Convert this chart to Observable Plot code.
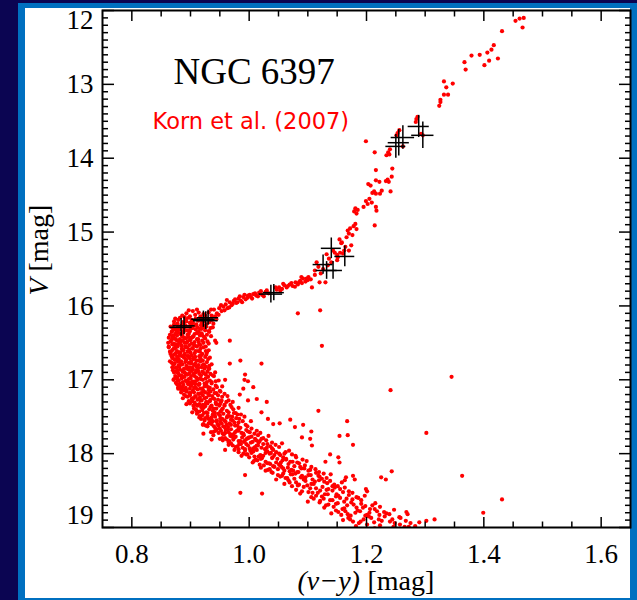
<!DOCTYPE html>
<html><head><meta charset="utf-8">
<script src="https://cdn.jsdelivr.net/npm/d3@7"></script>
<script src="https://cdn.jsdelivr.net/npm/@observablehq/plot@0.6"></script>
<style>
html,body{margin:0;padding:0;background:#0b0552;width:637px;height:600px;overflow:hidden;color:#000;}
#border{position:absolute;left:18px;top:3px;width:619px;height:597px;background:#0070c0;}
#panel{position:absolute;left:25px;top:8px;width:605px;height:590px;background:#fff;}
#chart{position:absolute;left:0;top:0;}
</style></head><body>
<div id="border"></div><div id="panel"></div><div id="chart"></div>
<script>
// [(v-y) colour, V magnitude]
const turnoffRegion = [
[0.886,16.13],[0.893,16.10],[0.899,16.14],[0.904,16.07],[0.908,16.12],[0.914,16.09],[0.917,16.14],[0.922,16.11],[0.890,16.15],[0.911,16.05],[0.897,16.06],
[0.872,16.21],[0.874,16.17],[0.878,16.24],[0.879,16.19],[0.882,16.16],[0.887,16.22],[0.889,16.25],[0.892,16.18],[0.893,16.21],[0.897,16.16],[0.899,16.23],[0.902,16.19],[0.904,16.22],[0.909,16.17],[0.910,16.25],[0.913,16.20],[0.917,16.16],[0.919,16.23],[0.922,16.18],[0.923,16.21],[0.927,16.25],[0.930,16.17],[0.932,16.22],[0.936,16.19],[0.939,16.24],[0.944,16.18],
[0.866,16.28],[0.869,16.34],[0.870,16.30],[0.872,16.25],[0.876,16.33],[0.878,16.29],[0.881,16.32],[0.886,16.26],[0.887,16.35],[0.889,16.31],[0.892,16.27],[0.896,16.33],[0.898,16.28],[0.899,16.34],[0.902,16.25],[0.904,16.30],[0.909,16.32],[0.912,16.29],[0.914,16.35],[0.918,16.26],[0.919,16.31],[0.922,16.27],[0.925,16.33],[0.927,16.28],[0.931,16.34],[0.934,16.30],[0.938,16.29],
[0.863,16.43],[0.865,16.39],[0.868,16.35],[0.869,16.42],[0.873,16.44],[0.875,16.37],[0.877,16.40],[0.882,16.45],[0.883,16.38],[0.886,16.41],[0.888,16.36],[0.892,16.44],[0.895,16.39],[0.896,16.42],[0.898,16.35],[0.902,16.43],[0.905,16.41],[0.907,16.38],[0.912,16.36],[0.913,16.45],[0.916,16.40],[0.919,16.37],[0.923,16.42],[0.925,16.44],[0.928,16.39],[0.932,16.35],[0.935,16.41],
[0.862,16.50],[0.863,16.55],[0.866,16.48],[0.868,16.46],[0.872,16.51],[0.874,16.53],[0.875,16.45],[0.878,16.52],[0.883,16.49],[0.885,16.54],[0.887,16.47],[0.890,16.50],[0.891,16.55],[0.895,16.48],[0.898,16.53],[0.900,16.46],[0.902,16.51],[0.907,16.49],[0.908,16.54],[0.911,16.45],[0.915,16.52],[0.917,16.53],[0.920,16.47],[0.922,16.50],[0.926,16.55],[0.929,16.48],[0.931,16.51]
];
const upperMainSequence = [
[0.863,16.56],[0.865,16.62],[0.866,16.65],[0.870,16.59],[0.872,16.57],[0.875,16.64],[0.877,16.61],[0.878,16.55],[0.883,16.63],[0.885,16.58],[0.888,16.60],[0.890,16.65],[0.894,16.56],[0.895,16.62],[0.898,16.59],[0.900,16.63],[0.903,16.57],[0.907,16.64],[0.909,16.61],[0.911,16.55],[0.916,16.62],[0.917,16.58],[0.920,16.65],[0.922,16.56],[0.926,16.61],[0.928,16.63],[0.931,16.60],
[0.865,16.75],[0.868,16.68],[0.870,16.71],[0.872,16.66],[0.873,16.73],[0.877,16.69],[0.880,16.72],[0.882,16.67],[0.884,16.75],[0.889,16.70],[0.890,16.66],[0.892,16.73],[0.895,16.68],[0.899,16.71],[0.901,16.75],[0.902,16.67],[0.905,16.72],[0.908,16.69],[0.910,16.74],[0.915,16.68],[0.917,16.71],[0.918,16.67],[0.921,16.74],[0.925,16.69],[0.927,16.66],[0.930,16.72],[0.933,16.70],
[0.868,16.77],[0.869,16.83],[0.873,16.78],[0.875,16.84],[0.878,16.75],[0.880,16.80],[0.881,16.82],[0.884,16.79],[0.889,16.85],[0.891,16.76],[0.893,16.81],[0.897,16.77],[0.898,16.83],[0.901,16.78],[0.903,16.84],[0.906,16.80],[0.908,16.78],[0.913,16.84],[0.914,16.80],[0.917,16.75],[0.919,16.83],[0.923,16.79],[0.926,16.82],[0.928,16.76],[0.931,16.85],[0.932,16.81],[0.936,16.79],
[0.870,16.87],[0.872,16.90],[0.874,16.95],[0.878,16.88],[0.879,16.91],[0.882,16.86],[0.885,16.94],[0.887,16.89],[0.892,16.92],[0.894,16.85],[0.895,16.93],[0.898,16.91],[0.902,16.88],[0.904,16.86],[0.907,16.95],[0.909,16.90],[0.910,16.87],[0.915,16.92],[0.918,16.94],[0.920,16.89],[0.924,16.85],[0.926,16.93],[0.929,16.89],[0.932,16.85],[0.934,16.92],[0.938,16.94],[0.942,16.90],
[0.872,16.99],[0.875,17.04],[0.877,16.97],[0.878,17.00],[0.882,17.05],[0.885,16.98],[0.887,17.03],[0.890,16.96],[0.892,17.01],[0.897,16.99],[0.898,17.04],[0.901,16.95],[0.903,17.02],[0.907,17.03],[0.910,16.97],[0.912,17.00],[0.915,17.05],[0.916,16.98],[0.921,17.00],[0.924,17.05],[0.926,16.98],[0.930,16.96],[0.933,17.01],[0.936,17.03],[0.940,16.95],[0.943,17.02],[0.948,17.01],
[0.877,17.06],[0.879,17.12],[0.882,17.09],[0.884,17.13],[0.888,17.07],[0.889,17.14],[0.892,17.11],[0.897,17.05],[0.899,17.12],[0.901,17.08],[0.904,17.15],[0.908,17.06],[0.909,17.11],[0.912,17.13],[0.915,17.06],[0.917,17.12],[0.922,17.15],[0.924,17.09],[0.927,17.07],[0.931,17.14],[0.933,17.11],[0.936,17.05],[0.939,17.13],[0.943,17.08],[0.945,17.10],[0.950,17.15],[0.954,17.09],
[0.884,17.17],[0.887,17.25],[0.889,17.20],[0.893,17.16],[0.895,17.23],[0.898,17.18],[0.899,17.21],[0.903,17.25],[0.906,17.17],[0.908,17.22],[0.913,17.19],[0.916,17.24],[0.918,17.18],[0.921,17.21],[0.925,17.17],[0.927,17.24],[0.930,17.19],[0.934,17.16],[0.937,17.22],[0.939,17.25],[0.944,17.18],[0.947,17.21],[0.951,17.16],[0.954,17.23],[0.958,17.19],[0.963,17.22],
[0.893,17.33],[0.897,17.29],[0.899,17.32],[0.902,17.26],[0.905,17.35],[0.907,17.31],[0.912,17.27],[0.915,17.33],[0.917,17.28],[0.921,17.34],[0.924,17.25],[0.927,17.30],[0.929,17.32],[0.933,17.29],[0.936,17.35],[0.941,17.26],[0.943,17.31],[0.947,17.27],[0.950,17.33],[0.953,17.28],[0.958,17.34],[0.961,17.30],[0.965,17.28],[0.968,17.34],[0.972,17.30],
[0.903,17.44],[0.906,17.39],[0.910,17.42],[0.912,17.35],[0.915,17.43],[0.920,17.41],[0.922,17.38],[0.925,17.36],[0.929,17.45],[0.932,17.40],[0.934,17.37],[0.938,17.42],[0.941,17.44],[0.944,17.39],[0.949,17.35],[0.951,17.43],[0.955,17.39],[0.958,17.35],[0.962,17.42],[0.965,17.44],[0.970,17.37],[0.973,17.40],[0.977,17.45],[0.982,17.38]
];
const mainSequenceCore = [
[0.874,16.32],[0.884,16.27],[0.893,16.33],[0.901,16.30],[0.908,16.26],[0.916,16.31],[0.923,16.29],[0.880,16.30],
[0.871,16.40],[0.879,16.36],[0.889,16.43],[0.897,16.38],[0.904,16.42],[0.911,16.37],[0.920,16.40],[0.885,16.39],
[0.869,16.52],[0.877,16.47],[0.884,16.53],[0.893,16.50],[0.899,16.46],[0.906,16.53],[0.914,16.49],[0.881,16.49],
[0.868,16.61],[0.874,16.57],[0.881,16.63],[0.887,16.59],[0.896,16.62],[0.904,16.58],[0.913,16.61],[0.892,16.56],
[0.869,16.70],[0.876,16.73],[0.886,16.68],[0.893,16.73],[0.897,16.68],[0.906,16.70],[0.913,16.74],[0.881,16.67],
[0.871,16.80],[0.877,16.83],[0.886,16.79],[0.895,16.84],[0.900,16.77],[0.910,16.82],[0.921,16.80],[0.883,16.76],
[0.876,16.89],[0.881,16.94],[0.890,16.90],[0.897,16.86],[0.905,16.92],[0.913,16.88],[0.923,16.91],[0.886,16.88],
[0.880,17.01],[0.886,16.97],[0.894,17.03],[0.900,16.98],[0.908,17.02],[0.918,16.99],[0.928,17.03],[0.904,17.05],
[0.886,17.10],[0.893,17.14],[0.900,17.08],[0.906,17.11],[0.914,17.07],[0.920,17.12],[0.930,17.10],[0.896,17.06],
[0.892,17.22],[0.900,17.18],[0.909,17.23],[0.915,17.19],[0.922,17.16],[0.932,17.21],[0.941,17.18],[0.905,17.25],
[0.903,17.29],[0.910,17.34],[0.919,17.28],[0.926,17.32],[0.934,17.27],[0.944,17.33],[0.952,17.30],[0.914,17.26],
[0.909,17.40],[0.918,17.37],[0.927,17.44],[0.939,17.39],[0.953,17.41],
[0.920,17.48],[0.931,17.53],[0.940,17.47],[0.951,17.52],[0.963,17.49],
[0.916,17.49],[0.936,17.51],[0.947,17.46],[0.958,17.55],[0.971,17.50],[0.980,17.47],
[0.931,17.59],[0.940,17.63],[0.951,17.57],[0.962,17.61],[0.975,17.58],
[0.926,17.62],[0.938,17.56],[0.946,17.60],[0.958,17.64],[0.967,17.59],[0.980,17.62],
[0.943,17.69],[0.955,17.73],[0.963,17.67],[0.976,17.71],[0.990,17.73],
[0.940,17.70],[0.950,17.66],[0.959,17.72],[0.968,17.74],[0.982,17.69],[0.998,17.70],
[0.962,17.81],[0.971,17.77],[0.985,17.83],[0.998,17.79],[1.012,17.82],
[0.954,17.79],[0.966,17.83],[0.975,17.78],[0.993,17.82],[1.004,17.77],[1.021,17.80],
[0.977,17.91],[0.986,17.87],[1.001,17.93],[1.015,17.89],[1.030,17.92],
[0.972,17.89],[0.982,17.94],[0.995,17.87],[1.010,17.91],[1.024,17.87],[1.039,17.93],
[0.995,18.01],[1.007,17.97],[1.021,18.03],[1.037,17.99],[1.053,18.02],
[0.990,18.00],[1.002,17.96],[1.016,18.04],[1.028,17.99],[1.043,18.02],[1.060,18.00],
[1.014,18.09],[1.031,18.13],[1.048,18.07],[1.070,18.11],
[1.008,18.10],[1.020,18.07],[1.036,18.14],[1.054,18.12],[1.063,18.08],[1.082,18.12],
[1.035,18.21],[1.055,18.18],[1.075,18.23],[1.094,18.20],
[1.028,18.23],[1.041,18.17],[1.058,18.20],[1.069,18.24],[1.087,18.18],[1.104,18.22],
[1.056,18.30],[1.074,18.28],[1.095,18.33],[1.118,18.30],
[1.049,18.29],[1.062,18.33],[1.079,18.27],[1.088,18.32],[1.105,18.29],[1.124,18.34],
[1.069,18.39],[1.083,18.43],[1.096,18.37],[1.110,18.41],[1.128,18.38],[1.142,18.44],
[1.090,18.51],[1.104,18.47],[1.117,18.53],[1.132,18.49],[1.146,18.46],[1.160,18.52],
[1.110,18.61],[1.124,18.58],[1.138,18.63],[1.152,18.57],[1.166,18.61],[1.186,18.60],
[1.131,18.70],[1.148,18.68],[1.162,18.74],[1.178,18.69],[1.194,18.73],[1.210,18.70],
[1.152,18.79],[1.168,18.82],[1.185,18.77],[1.201,18.83],[1.218,18.78],[1.234,18.81],
[1.172,18.89],[1.190,18.92],[1.208,18.87],[1.226,18.91],[1.244,18.89]
];
const lowerMainSequence = [
[0.911,17.46],[0.915,17.51],[0.918,17.53],[0.923,17.45],[0.925,17.52],[0.929,17.49],[0.935,17.54],[0.938,17.47],[0.942,17.50],[0.945,17.55],[0.950,17.48],[0.954,17.53],[0.956,17.46],[0.962,17.51],[0.966,17.49],[0.969,17.54],[0.974,17.45],[0.978,17.52],[0.983,17.53],[0.986,17.47],[0.992,17.50],
[0.921,17.61],[0.924,17.55],[0.929,17.63],[0.933,17.58],[0.936,17.60],[0.942,17.65],[0.944,17.56],[0.948,17.62],[0.953,17.59],[0.956,17.63],[0.960,17.57],[0.964,17.64],[0.969,17.61],[0.972,17.55],[0.976,17.62],[0.982,17.58],[0.985,17.65],[0.989,17.56],[0.994,17.61],[0.997,17.63],[1.003,17.56],
[0.935,17.71],[0.939,17.75],[0.945,17.67],[0.948,17.72],[0.952,17.69],[0.957,17.74],[0.960,17.68],[0.965,17.71],[0.969,17.67],[0.973,17.74],[0.979,17.69],[0.982,17.66],[0.987,17.72],[0.991,17.75],[0.995,17.68],[1.001,17.71],[1.004,17.66],[1.009,17.73],[1.013,17.69],[1.019,17.72],
[0.950,17.80],[0.955,17.82],[0.959,17.79],[0.965,17.85],[0.968,17.76],[0.973,17.81],[0.977,17.77],[0.982,17.83],[0.988,17.78],[0.991,17.84],[0.996,17.80],[1.000,17.78],[1.006,17.84],[1.010,17.80],[1.015,17.75],[1.018,17.83],[1.024,17.79],[1.029,17.82],[1.033,17.76],[1.039,17.85],
[0.965,17.88],[0.969,17.86],[0.975,17.95],[0.980,17.90],[0.983,17.87],[0.989,17.92],[0.993,17.94],[0.998,17.89],[1.003,17.85],[1.007,17.93],[1.013,17.89],[1.016,17.85],[1.021,17.92],[1.027,17.94],[1.031,17.87],[1.036,17.90],[1.041,17.95],[1.045,17.88],[1.051,17.91],[1.056,17.86],
[0.982,17.98],[0.987,18.03],[0.993,17.96],[0.997,18.01],[1.004,17.99],[1.009,18.04],[1.013,17.95],[1.019,18.02],[1.024,18.03],[1.031,17.97],[1.035,18.00],[1.040,18.05],[1.046,17.98],[1.051,18.00],[1.058,18.05],[1.062,17.98],[1.068,17.96],[1.073,18.01],[1.079,18.03],
[1.000,18.05],[1.006,18.12],[1.011,18.08],[1.018,18.15],[1.022,18.06],[1.028,18.11],[1.034,18.13],[1.039,18.06],[1.046,18.12],[1.051,18.15],[1.057,18.09],[1.063,18.07],[1.067,18.14],[1.074,18.11],[1.080,18.05],[1.085,18.13],[1.091,18.08],[1.098,18.10],
[1.020,18.19],[1.025,18.16],[1.032,18.22],[1.038,18.25],[1.043,18.18],[1.049,18.21],[1.053,18.16],[1.060,18.23],[1.066,18.19],[1.072,18.22],[1.077,18.17],[1.084,18.25],[1.089,18.20],[1.095,18.16],[1.101,18.23],[1.106,18.18],[1.113,18.21],[1.119,18.25],
[1.040,18.26],[1.046,18.35],[1.053,18.31],[1.058,18.27],[1.065,18.33],[1.071,18.28],[1.077,18.34],[1.082,18.25],[1.090,18.30],[1.096,18.32],[1.101,18.29],[1.108,18.35],[1.114,18.26],[1.120,18.31],[1.127,18.27],[1.132,18.33],[1.139,18.28],
[1.060,18.41],[1.067,18.36],[1.073,18.44],[1.080,18.39],[1.085,18.42],[1.093,18.35],[1.099,18.43],[1.106,18.41],[1.112,18.38],[1.119,18.36],[1.125,18.45],[1.133,18.40],[1.138,18.37],[1.145,18.42],[1.151,18.44],[1.158,18.39],
[1.080,18.49],[1.087,18.54],[1.093,18.45],[1.101,18.52],[1.108,18.53],[1.114,18.47],[1.121,18.50],[1.129,18.55],[1.135,18.48],[1.142,18.50],[1.149,18.55],[1.155,18.48],[1.163,18.46],[1.170,18.51],[1.176,18.53],
[1.100,18.65],[1.106,18.59],[1.114,18.57],[1.121,18.64],[1.127,18.61],[1.134,18.55],[1.142,18.63],[1.148,18.58],[1.155,18.60],[1.162,18.65],[1.170,18.56],[1.176,18.62],[1.183,18.59],[1.191,18.63],[1.197,18.57],
[1.120,18.66],[1.128,18.73],[1.135,18.69],[1.144,18.72],[1.151,18.67],[1.159,18.75],[1.167,18.70],[1.174,18.66],[1.183,18.73],[1.191,18.68],[1.198,18.71],[1.206,18.75],[1.215,18.67],[1.223,18.72],
[1.140,18.81],[1.148,18.77],[1.157,18.83],[1.164,18.78],[1.173,18.84],[1.181,18.80],[1.189,18.78],[1.198,18.84],[1.205,18.80],[1.214,18.75],[1.222,18.83],[1.230,18.79],[1.239,18.82],[1.247,18.76],
[1.160,18.90],[1.169,18.87],[1.177,18.92],[1.187,18.94],[1.195,18.89],[1.204,18.85],[1.213,18.93],[1.221,18.89],[1.231,18.85],[1.240,18.92],[1.248,18.94],[1.258,18.87],[1.267,18.91],
[1.182,18.98],[1.193,19.02],[1.201,18.96],[1.214,19.01],[1.223,18.97],[1.235,19.03],[1.246,18.99],[1.257,18.96],[1.270,19.02],[1.283,18.98]
];
const subgiantBranch = [
[0.925,16.13],[0.931,16.09],[0.936,16.13],[0.940,16.05],[0.945,16.10],[0.949,16.03],[0.953,16.07],[0.956,16.01],[0.960,15.98],[0.963,16.03],[0.967,15.95],[0.970,15.99],[0.974,15.93],[0.978,15.96],[0.982,15.90],[0.986,15.93],[0.990,15.88],[0.994,15.91],[0.998,15.86],[1.003,15.88],[1.007,15.84],[1.012,15.86],[1.017,15.82],[1.022,15.85],[1.028,15.81],[1.033,15.83],[1.047,15.78],[1.051,15.75],[1.056,15.77],[1.060,15.72],[1.064,15.75],[1.069,15.71],[1.074,15.73],[1.079,15.68],[1.083,15.71],[1.087,15.66],[1.092,15.63],[1.096,15.67],[1.101,15.61],[1.105,15.64],
[0.935,16.05],[0.942,16.14],[0.948,16.12],[0.952,15.99],[0.958,16.06],[0.962,15.92],[0.966,16.02],[0.972,15.97],[0.976,15.91],[0.980,15.95],[0.984,15.87],[0.988,15.95],[0.992,15.85],[0.997,15.89],[1.001,15.85],[1.005,15.90],[1.010,15.83],[1.015,15.87],[1.020,15.80],[1.025,15.87],[1.030,15.79],[1.045,15.75],[1.053,15.79],[1.058,15.70],[1.066,15.73],[1.072,15.69],[1.078,15.74],[1.085,15.68],[1.090,15.69],[1.098,15.63]
];
const giantBranch = [
[1.107,15.75],[1.100,15.65],[1.089,15.61],[1.112,15.58],[1.120,15.68],[1.130,15.68],[1.112,15.52],[1.118,15.47],[1.122,15.56],[1.126,15.50],[1.115,15.41],
[1.132,15.30],[1.136,15.36],[1.140,15.41],[1.134,15.45],[1.146,15.28],[1.151,15.34],[1.150,15.38],[1.143,15.25],
[1.154,15.10],[1.158,15.14],[1.170,15.25],[1.174,15.18],[1.157,15.15],[1.164,15.20],[1.162,15.25],[1.160,15.29],[1.155,15.28],[1.150,15.31],
[1.166,15.07],[1.170,15.02],[1.168,14.98],[1.172,14.95],[1.176,15.04],[1.178,14.92],[1.181,14.89],[1.183,14.96],[1.214,14.91],
[1.179,14.72],[1.181,14.68],[1.183,14.75],[1.185,14.70],[1.195,14.66],[1.199,14.58],[1.202,14.62],[1.205,14.55],[1.209,14.60],[1.216,14.66],[1.217,14.71],
[1.210,14.47],[1.213,14.45],[1.216,14.48],[1.223,14.48],[1.226,14.44],[1.241,14.45],
[1.203,14.35],[1.207,14.37],[1.216,14.30],[1.222,14.32],[1.233,14.31],[1.236,14.29],[1.238,14.32],[1.243,14.25],[1.216,14.16],[1.244,14.14],
[1.234,13.96],[1.237,13.92],[1.239,13.95],[1.240,13.88],[1.214,13.92],[1.199,13.77],[1.262,13.84],
[1.251,13.69],[1.253,13.66],[1.256,13.62],[1.284,13.51],[1.285,13.47],[1.287,13.44],[1.293,13.67],[1.296,13.69],
[1.324,13.29],[1.326,13.24],[1.326,13.21],[1.332,13.14],[1.339,13.14],[1.332,12.96],[1.336,13.04],[1.347,12.99],
[1.367,12.70],[1.369,12.80],[1.379,12.61],[1.393,12.60],[1.401,12.74],[1.406,12.57],[1.409,12.68],[1.413,12.53],[1.417,12.47],[1.424,12.65],
[1.431,12.28],[1.454,12.14],[1.461,12.11],[1.466,12.23],[1.468,12.10]
];
const fieldStars = [
[1.083,16.10],[1.121,16.06],[1.124,16.54],[1.118,17.42],[1.345,16.96],[1.241,17.14],[1.302,17.72],[1.363,18.30],[1.431,18.62],[1.399,18.80],
[0.967,16.47],[0.942,16.47],[0.944,16.50],[0.985,16.74],[1.021,16.78],[0.967,16.78],[0.993,16.93],[0.992,17.00],[0.998,17.02],[0.959,17.00],[1.007,17.10],[0.990,17.12],
[0.871,17.00],[0.879,17.10],[1.013,17.26],[0.998,17.28],[0.984,17.20],[1.032,17.53],[1.021,17.44],[1.030,17.30],
[1.041,17.60],[1.052,17.59],[1.070,17.54],[1.078,17.64],[1.092,17.61],[1.106,17.70],[1.104,17.80],[1.107,17.89],[1.090,17.78],
[1.167,17.56],[1.154,17.76],[1.168,17.75],[1.177,17.88],
[0.917,18.01],[0.959,17.95],[0.936,17.81],[0.922,17.73],[0.922,17.60],[0.993,18.29],[0.985,18.53],[1.022,18.54],
[1.138,18.01],[1.152,18.05],[1.154,18.12],[1.130,18.11],[1.225,18.32],[1.233,18.35],[1.243,18.24],[1.177,18.30],[1.180,18.35],[1.163,18.36],[1.165,18.32],
[1.199,18.48],[1.201,18.51],[1.256,18.86],[1.268,18.79],[1.270,18.82],
[1.275,18.94],[1.290,18.93],[1.302,18.91],[1.316,18.89],[1.265,18.99],[1.272,18.99]
];
// Korn et al. (2007) targets: [colour, V, colour error, V error]
const kornStars = [
[0.884,16.29,0.019,0.12],[0.889,16.27,0.019,0.12],[0.922,16.18,0.020,0.11],[0.926,16.20,0.021,0.12],[0.930,16.16,0.018,0.10],
[1.037,15.84,0.020,0.12],[1.042,15.82,0.018,0.11],
[1.140,15.22,0.017,0.14],[1.163,15.33,0.017,0.14],[1.126,15.44,0.017,0.13],[1.132,15.52,0.018,0.12],[1.143,15.52,0.016,0.12],
[1.250,13.84,0.017,0.16],[1.255,13.79,0.018,0.18],[1.262,13.72,0.020,0.16],[1.289,13.57,0.018,0.15],[1.296,13.69,0.019,0.18]
];
const xMajor = [0.8, 1.0, 1.2, 1.4, 1.6];
const xMinor = [0.85, 0.9, 0.95, 1.05, 1.1, 1.15, 1.25, 1.3, 1.35, 1.45, 1.5, 1.55];
const yMajor = [12, 13, 14, 15, 16, 17, 18, 19];
const yMinor = d3.range(121, 190).filter(v => v % 10 !== 0).map(v => v / 10);
const titleText = ["NGC 6397"];
const sourceText = ["Korn et al. (2007)"];
const xTitle = ["(v\u2212y)", "[mag]"];
const yTitle = ["V", "[mag]"];

const allStars = [...turnoffRegion, ...upperMainSequence, ...mainSequenceCore, ...lowerMainSequence, ...subgiantBranch, ...giantBranch, ...fieldStars];
const blank = () => "";
const tickOpts = {label: null, tickFormat: blank, stroke: "black", strokeWidth: 1.5};
const labelOpts = {label: null, tickSize: 0, fontSize: 27, fill: "black"};

const chart = Plot.plot({
  width: 637, height: 600,
  marginLeft: 102, marginRight: 7, marginTop: 10, marginBottom: 73,
  style: "background: transparent; font-family: 'Liberation Serif', 'Times New Roman', serif; overflow: visible;",
  x: {domain: [0.75, 1.65], axis: null},
  y: {domain: [12, 19], reverse: true, axis: null},
  marks: [
    Plot.dot(allStars, {x: d => d[0], y: d => d[1], r: 2.1, fill: "#ff0000", clip: true}),
    Plot.ruleY(kornStars, {y: d => d[1], x1: d => d[0] - d[2], x2: d => d[0] + d[2], stroke: "black", strokeWidth: 1.5}),
    Plot.ruleX(kornStars, {x: d => d[0], y1: d => d[1] - d[3], y2: d => d[1] + d[3], stroke: "black", strokeWidth: 1.5}),
    Plot.frame({stroke: "black", strokeWidth: 2}),
    Plot.axisX({...tickOpts, anchor: "bottom", ticks: xMajor, tickSize: -10}),
    Plot.axisX({...tickOpts, anchor: "bottom", ticks: xMinor, tickSize: -5.5}),
    Plot.axisX({...tickOpts, anchor: "top", ticks: xMajor, tickSize: -10}),
    Plot.axisX({...tickOpts, anchor: "top", ticks: xMinor, tickSize: -5.5}),
    Plot.axisY({...tickOpts, anchor: "left", ticks: yMajor, tickSize: -12}),
    Plot.axisY({...tickOpts, anchor: "left", ticks: yMinor, tickSize: -6}),
    Plot.axisY({...tickOpts, anchor: "right", ticks: yMajor, tickSize: -12}),
    Plot.axisY({...tickOpts, anchor: "right", ticks: yMinor, tickSize: -6}),
    Plot.axisX({...labelOpts, anchor: "bottom", ticks: xMajor, tickPadding: 16, tickFormat: d3.format(".1f")}),
    Plot.axisY({...labelOpts, anchor: "left", ticks: yMajor.slice(1, -1), tickPadding: 9, tickFormat: d3.format("d")}),
    Plot.axisY({...labelOpts, anchor: "left", ticks: yMajor.slice(0, 1), tickPadding: 9, tickFormat: d3.format("d"), dy: 10}),
    Plot.axisY({...labelOpts, anchor: "left", ticks: yMajor.slice(-1), tickPadding: 9, tickFormat: d3.format("d"), dy: -12}),
    Plot.text(titleText, {text: d => d, frameAnchor: "top-left", dx: 71, dy: 73, textAnchor: "start", lineAnchor: "bottom", fontSize: 37, fill: "black"}),
    Plot.text(sourceText, {text: d => d, frameAnchor: "top-left", dx: 50, dy: 118, textAnchor: "start", lineAnchor: "bottom", fontSize: 22.5, fill: "#ff0000", fontFamily: "'Comic Sans MS','DejaVu Sans',sans-serif"}),
    Plot.text(xTitle.slice(0, 1), {text: d => d, frameAnchor: "bottom-left", dx: 195, dy: 62, textAnchor: "start", lineAnchor: "bottom", fontSize: 28, fontStyle: "italic", fill: "black"}),
    Plot.text(xTitle.slice(1), {text: d => d, frameAnchor: "bottom-left", dx: 265, dy: 62, textAnchor: "start", lineAnchor: "bottom", fontSize: 28, fill: "black"}),
    Plot.text(yTitle.slice(0, 1), {text: d => d, frameAnchor: "top-left", dx: -55, dy: 285, rotate: -90, textAnchor: "start", lineAnchor: "bottom", fontSize: 28, fontStyle: "italic", fill: "black"}),
    Plot.text(yTitle.slice(1), {text: d => d, frameAnchor: "top-left", dx: -55, dy: 261, rotate: -90, textAnchor: "start", lineAnchor: "bottom", fontSize: 28, fill: "black"})
  ]
});
document.getElementById("chart").append(chart);
</script>
</body></html>
